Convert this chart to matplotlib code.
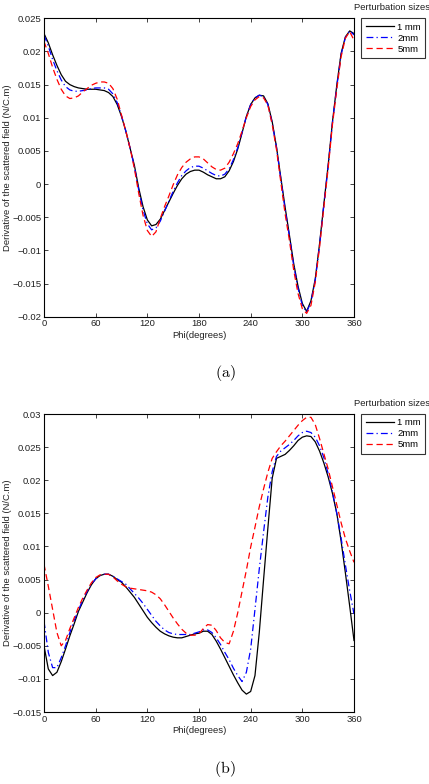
import matplotlib
matplotlib.use("Agg")
import matplotlib.pyplot as plt

plt.rcParams['font.family'] = ['Liberation Sans', 'DejaVu Sans']
plt.rcParams['mathtext.fontset'] = 'cm'

phi = list(range(0, 361, 5))

# ---- panel (a) ----
a_1mm = [0.0227, 0.0213, 0.0195, 0.0179, 0.0165, 0.0155, 0.0150, 0.0147, 0.0145, 0.0144,
         0.0143, 0.0143, 0.0143, 0.0142, 0.0141, 0.0138, 0.0132, 0.0120, 0.0102, 0.0080,
         0.0054, 0.0028, -0.0006, -0.0034, -0.0054, -0.0063, -0.0061, -0.0053, -0.0040, -0.0027,
         -0.0014, -0.0002, 0.0008, 0.0015, 0.0019, 0.0021, 0.0021, 0.0018, 0.0014, 0.0011,
         0.0008, 0.0008, 0.0011, 0.0020, 0.0034, 0.0053, 0.0077, 0.0102, 0.0120, 0.0130,
         0.0134, 0.0133, 0.0121, 0.0094, 0.0056, 0.0010, -0.0035, -0.0077, -0.0120, -0.0154,
         -0.0180, -0.0192, -0.0176, -0.0143, -0.0090, -0.0030, 0.0029, 0.0094, 0.0149, 0.0197,
         0.0222, 0.0231, 0.0227]
a_2mm = [0.0225, 0.0208, 0.0188, 0.0171, 0.0157, 0.0147, 0.0142, 0.0140, 0.0140, 0.0141,
         0.0142, 0.0144, 0.0145, 0.0145, 0.0145, 0.0143, 0.0136, 0.0123, 0.0103, 0.0080,
         0.0054, 0.0026, -0.0009, -0.0039, -0.0060, -0.0069, -0.0066, -0.0056, -0.0041, -0.0026,
         -0.0011, 0.0002, 0.0013, 0.0020, 0.0025, 0.0027, 0.0027, 0.0024, 0.0020, 0.0016,
         0.0013, 0.0012, 0.0015, 0.0023, 0.0037, 0.0055, 0.0078, 0.0102, 0.0120, 0.0130,
         0.0134, 0.0132, 0.0120, 0.0092, 0.0055, 0.0008, -0.0038, -0.0079, -0.0123, -0.0157,
         -0.0183, -0.0193, -0.0178, -0.0145, -0.0092, -0.0032, 0.0027, 0.0093, 0.0147, 0.0195,
         0.0221, 0.0231, 0.0225]
a_5mm = [0.0215, 0.0197, 0.0176, 0.0158, 0.0143, 0.0133, 0.0129, 0.0130, 0.0133, 0.0139,
         0.0144, 0.0149, 0.0152, 0.0154, 0.0154, 0.0152, 0.0144, 0.0128, 0.0104, 0.0080,
         0.0054, 0.0023, -0.0014, -0.0047, -0.0070, -0.0079, -0.0072, -0.0052, -0.0034, -0.0018,
         -0.0001, 0.0014, 0.0025, 0.0033, 0.0038, 0.0041, 0.0041, 0.0038, 0.0032, 0.0026,
         0.0022, 0.0021, 0.0024, 0.0033, 0.0046, 0.0061, 0.0080, 0.0100, 0.0117, 0.0127,
         0.0132, 0.0130, 0.0119, 0.0090, 0.0052, 0.0003, -0.0045, -0.0085, -0.0130, -0.0165,
         -0.0188, -0.0195, -0.0183, -0.0148, -0.0095, -0.0035, 0.0024, 0.0090, 0.0143, 0.0192,
         0.0220, 0.0230, 0.0217]

# ---- panel (b) ----
b_1mm = [-0.0050, -0.0085, -0.0095, -0.0090, -0.0074, -0.0055, -0.0035, -0.0017, 0.0002, 0.0016,
         0.0030, 0.0042, 0.0051, 0.0056, 0.0058, 0.0058, 0.0055, 0.0050, 0.0046, 0.0039,
         0.0031, 0.0023, 0.0013, 0.0003, -0.0007, -0.0015, -0.0022, -0.0028, -0.0032, -0.0035,
         -0.0037, -0.0038, -0.0038, -0.0036, -0.0034, -0.0032, -0.0031, -0.0028, -0.0028, -0.0033,
         -0.0043, -0.0055, -0.0068, -0.0081, -0.0094, -0.0106, -0.0117, -0.0123, -0.0119, -0.0095,
         -0.0030, 0.0050, 0.0128, 0.0203, 0.0233, 0.0236, 0.0239, 0.0245, 0.0252, 0.0260,
         0.0265, 0.0267, 0.0266, 0.0258, 0.0244, 0.0226, 0.0205, 0.0180, 0.0150, 0.0108,
         0.0060, 0.0010, -0.0042]
b_2mm = [-0.0013, -0.0060, -0.0083, -0.0083, -0.0068, -0.0050, -0.0030, -0.0012, 0.0004, 0.0019,
         0.0032, 0.0043, 0.0051, 0.0056, 0.0058, 0.0058, 0.0055, 0.0051, 0.0047, 0.0043,
         0.0036, 0.0029, 0.0022, 0.0014, 0.0005, -0.0004, -0.0013, -0.0020, -0.0026, -0.0030,
         -0.0032, -0.0033, -0.0033, -0.0033, -0.0033, -0.0031, -0.0029, -0.0026, -0.0026, -0.0030,
         -0.0038, -0.0048, -0.0060, -0.0071, -0.0084, -0.0095, -0.0104, -0.0090, -0.0055, 0.0005,
         0.0066, 0.0122, 0.0175, 0.0213, 0.0236, 0.0244, 0.0249, 0.0254, 0.0260, 0.0267,
         0.0272, 0.0274, 0.0272, 0.0265, 0.0252, 0.0234, 0.0210, 0.0182, 0.0150, 0.0113,
         0.0072, 0.0033, -0.0002]
b_5mm = [0.0073, 0.0040, 0.0005, -0.0030, -0.0050, -0.0042, -0.0024, -0.0008, 0.0008, 0.0022,
         0.0034, 0.0045, 0.0053, 0.0057, 0.0058, 0.0058, 0.0054, 0.0048, 0.0043, 0.0039,
         0.0037, 0.0036, 0.0035, 0.0034, 0.0033, 0.0031, 0.0027, 0.0021, 0.0012, 0.0002,
         -0.0008, -0.0017, -0.0025, -0.0031, -0.0034, -0.0034, -0.0032, -0.0024, -0.0018, -0.0019,
         -0.0027, -0.0038, -0.0045, -0.0047, -0.0028, 0.0000, 0.0032, 0.0064, 0.0099, 0.0129,
         0.0160, 0.0187, 0.0212, 0.0233, 0.0243, 0.0252, 0.0259, 0.0267, 0.0275, 0.0283,
         0.0290, 0.0295, 0.0295, 0.0284, 0.0263, 0.0240, 0.0217, 0.0190, 0.0163, 0.0136,
         0.0112, 0.0093, 0.0076]

series_labels = ['1 mm', '2mm', '5mm']
x_ticks = [0, 60, 120, 180, 240, 300, 360]
a_yticks = [-0.02, -0.015, -0.01, -0.005, 0, 0.005, 0.01, 0.015, 0.02, 0.025]
a_yticklabels = ['\u22120.02', '\u22120.015', '\u22120.01', '\u22120.005', '0',
                 '0.005', '0.01', '0.015', '0.02', '0.025']
b_yticks = [-0.015, -0.01, -0.005, 0, 0.005, 0.01, 0.015, 0.02, 0.025, 0.03]
b_yticklabels = ['\u22120.015', '\u22120.01', '\u22120.005', '0', '0.005',
                 '0.01', '0.015', '0.02', '0.025', '0.03']

W, H = 429, 784
fig = plt.figure(figsize=(W / 100, H / 100), dpi=100)

FS = 6.8
styles = [dict(color='black', ls='-'),
          dict(color='blue', ls=(0, (5.5, 2.5, 1, 2.5))),
          dict(color='red', ls=(0, (5, 3)))]


def make_panel(rect, data, yticks, yticklabels, ylim, caption, cap_y):
    ax = fig.add_axes(rect)
    for d, st, lab in zip(data, styles, series_labels):
        ax.plot(phi, d, lw=0.9, label=lab, **st)
    ax.set_xlim(0, 360)
    ax.set_ylim(*ylim)
    ax.set_xticks(x_ticks)
    ax.set_xticklabels([str(t) for t in x_ticks])
    ax.set_yticks(yticks)
    ax.set_yticklabels(yticklabels)
    ax.tick_params(direction='in', length=2.8, width=0.6, labelsize=FS,
                   top=True, right=True, pad=2, colors='#222222')
    for s in ax.spines.values():
        s.set_linewidth(0.8)
    ax.set_xlabel('Phi(degrees)', fontsize=FS, labelpad=1.5, color='#222222')
    ax.set_ylabel('Derivative of the scattered field (N/C.m)', fontsize=FS, color='#222222')
    ax.yaxis.set_label_coords(-0.103, 0.5)
    leg = ax.legend(loc='upper left', bbox_to_anchor=(1.024, 1.0), fontsize=FS,
                    frameon=True, fancybox=False, edgecolor='black',
                    handlelength=3.0, handletextpad=0.35, labelspacing=0.22,
                    borderpad=0.45, borderaxespad=0.0)
    leg.get_frame().set_linewidth(0.8)
    top_px = (1 - (rect[1] + rect[3])) * H
    fig.text(392 / W, 1 - (top_px - 10.5) / H, 'Perturbation sizes', fontsize=FS,
             ha='center', va='center', color='#222222')
    fig.text(225 / W, 1 - cap_y / H, r'$\mathrm{(' + caption + ')}$', fontsize=11.5,
             ha='center', va='center')
    return ax


make_panel([44 / W, 1 - 316.7 / H, 310 / W, 298.4 / H], [a_1mm, a_2mm, a_5mm],
           a_yticks, a_yticklabels, (-0.02, 0.025), 'a', 373)
make_panel([44 / W, 1 - 712 / H, 310 / W, 298 / H], [b_1mm, b_2mm, b_5mm],
           b_yticks, b_yticklabels, (-0.015, 0.03), 'b', 769)

fig.savefig('out.png', dpi=100)
